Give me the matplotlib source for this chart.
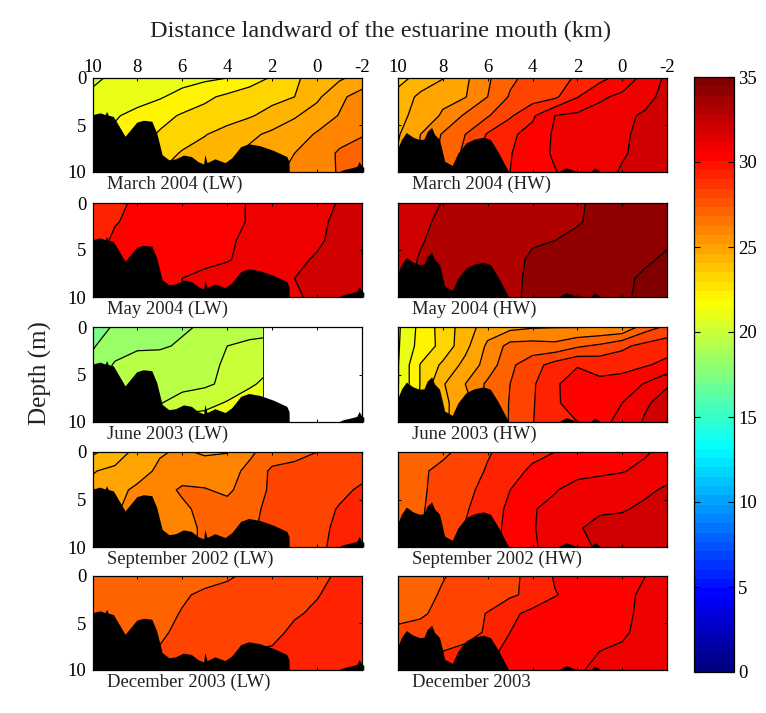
import numpy as np
import matplotlib
matplotlib.use("Agg")
import matplotlib.pyplot as plt
from matplotlib.cm import ScalarMappable
from matplotlib.colors import LinearSegmentedColormap, Normalize

plt.rcParams['font.family'] = ['Liberation Serif', 'DejaVu Serif']
plt.rcParams['axes.unicode_minus'] = False

W, H = 766, 713

km = [10, 9, 8, 7, 6, 5, 4, 3, 2, 1, 0, -1, -2]
km_june_lw = [10, 9, 8, 7, 6, 5, 4, 3, 2.4]  # no stations past 2.4 km that day
depth = [0, 2, 4, 6, 8, 10]

# salinity, one row per depth, one column per station
mar04_lw = [
    [20.8, 21.2, 21.3, 21.5, 21.6, 21.8, 22.0, 22.55, 23.1, 23.85, 24.4, 24.85, 25.4],
    [21.2, 21.4, 21.6, 21.9, 22.35, 22.8, 23.2, 23.5, 23.7, 24.0, 24.8, 25.8, 26.4],
    [21.5, 21.9, 22.3, 22.7, 23.1, 23.35, 23.55, 23.9, 24.35, 24.9, 25.45, 26.05, 26.6],
    [21.9, 22.2, 22.6, 23.1, 23.5, 23.95, 24.4, 24.8, 25.2, 25.55, 26.1, 26.55, 26.95],
    [22.2, 22.5, 23.0, 23.5, 24.1, 24.4, 24.8, 25.2, 25.6, 26.0, 26.4, 27.15, 27.3],
    [22.5, 23.0, 23.4, 24.0, 24.3, 24.6, 25.0, 25.4, 25.8, 26.2, 26.5, 27.1, 27.4],
]
mar04_hw = [
    [23.7, 24.3, 24.95, 25.8, 26.85, 27.8, 28.35, 28.7, 29.1, 29.7, 30.4, 31.3, 32.2],
    [24.3, 25.25, 25.8, 25.95, 27.0, 28.1, 28.5, 28.8, 29.95, 30.85, 31.2, 31.6, 32.4],
    [24.6, 25.5, 26.1, 27.15, 27.9, 28.85, 29.85, 31.0, 31.2, 31.35, 31.75, 32.15, 32.4],
    [24.9, 26.0, 27.1, 28.0, 29.1, 29.85, 30.3, 31.15, 31.3, 31.45, 31.85, 32.25, 32.5],
    [25.1, 26.1, 27.3, 28.2, 29.3, 29.95, 30.5, 31.15, 31.35, 31.5, 31.9, 32.3, 32.5],
    [25.2, 26.2, 27.4, 28.3, 29.4, 30.0, 30.5, 30.95, 31.4, 31.6, 32.1, 32.35, 32.55],
]
may04_lw = [
    [29.5, 29.8, 30.15, 30.3, 30.45, 30.6, 30.8, 31.05, 31.3, 31.5, 31.75, 32.05, 32.3],
    [29.5, 29.95, 30.2, 30.35, 30.5, 30.65, 30.8, 31.05, 31.3, 31.5, 31.75, 32.25, 32.5],
    [29.6, 30.15, 30.3, 30.4, 30.55, 30.7, 30.9, 31.15, 31.4, 31.6, 31.85, 32.3, 32.5],
    [29.7, 30.1, 30.3, 30.5, 30.7, 30.85, 30.95, 31.2, 31.45, 31.8, 32.1, 32.4, 32.6],
    [29.8, 30.2, 30.4, 30.6, 31.0, 31.15, 31.3, 31.45, 31.6, 32.0, 32.2, 32.5, 32.7],
    [29.9, 30.3, 30.5, 30.7, 31.0, 31.2, 31.35, 31.5, 31.7, 31.85, 32.25, 32.5, 32.7],
]
may04_hw = [
    [32.6, 32.8, 33.02, 33.2, 33.3, 33.4, 33.55, 33.7, 33.92, 34.15, 34.3, 34.4, 34.5],
    [32.6, 32.85, 33.15, 33.3, 33.4, 33.45, 33.55, 33.7, 33.95, 34.15, 34.3, 34.45, 34.55],
    [32.65, 32.95, 33.2, 33.3, 33.4, 33.5, 33.9, 34.0, 34.15, 34.25, 34.35, 34.5, 34.85],
    [32.7, 33.05, 33.3, 33.4, 33.5, 33.7, 34.15, 34.3, 34.4, 34.5, 34.6, 34.85, 35.15],
    [32.75, 33.1, 33.35, 33.45, 33.55, 33.75, 34.2, 34.4, 34.5, 34.6, 34.8, 35.15, 35.3],
    [32.8, 33.1, 33.4, 33.5, 33.6, 33.8, 34.2, 34.45, 34.55, 34.65, 34.85, 35.2, 35.35],
]
jun03_lw = [
    [17.6, 18.1, 18.3, 18.6, 18.9, 19.1, 19.3, 19.5, 19.6],
    [17.9, 18.6, 18.9, 18.9, 19.1, 19.4, 20.0, 20.25, 20.3],
    [18.3, 19.1, 19.3, 19.4, 19.5, 19.8, 20.1, 20.4, 20.6],
    [18.5, 19.2, 19.4, 19.5, 19.7, 19.85, 20.2, 20.8, 21.2],
    [18.7, 19.3, 19.5, 19.95, 20.4, 20.6, 21.1, 21.7, 21.9],
    [18.9, 19.4, 19.7, 20.5, 21.5, 21.6, 21.8, 22.0, 22.0],
]
jun03_hw = [
    [20.85, 22.3, 23.4, 24.5, 25.5, 25.7, 25.9, 25.95, 25.95, 25.98, 26.05, 27.5, 28.2],
    [20.9, 22.4, 23.3, 24.7, 26.2, 27.35, 27.4, 27.3, 27.85, 28.2, 28.8, 29.3, 29.6],
    [20.95, 23.05, 24.2, 25.3, 26.4, 27.8, 28.6, 29.4, 29.95, 29.7, 29.6, 29.9, 30.25],
    [20.95, 23.05, 24.9, 26.0, 27.2, 28.0, 28.85, 29.9, 30.35, 30.2, 30.5, 31.05, 31.9],
    [21.1, 23.1, 24.8, 25.5, 27.3, 28.05, 28.9, 29.9, 30.3, 30.5, 31.0, 31.85, 32.4],
    [21.2, 23.2, 24.7, 25.8, 27.4, 28.05, 28.95, 29.9, 30.0, 30.7, 31.3, 32.1, 32.6],
]
sep02_lw = [
    [23.8, 24.5, 25.3, 25.9, 26.15, 25.85, 25.95, 26.85, 27.4, 27.7, 28.0, 28.3, 28.6],
    [24.95, 25.2, 25.6, 26.2, 26.5, 26.6, 26.7, 27.2, 28.2, 28.3, 28.4, 28.6, 28.8],
    [25.2, 25.7, 26.2, 26.6, 27.15, 27.05, 26.85, 27.4, 28.2, 28.4, 28.6, 28.85, 29.1],
    [25.4, 25.9, 26.3, 26.5, 26.8, 27.3, 27.3, 27.7, 28.3, 28.5, 28.75, 29.05, 29.2],
    [25.6, 26.0, 26.4, 26.6, 26.8, 27.1, 27.4, 27.8, 28.4, 28.6, 28.8, 29.15, 29.3],
    [25.8, 26.1, 26.4, 26.6, 26.8, 27.1, 27.5, 27.9, 28.4, 28.6, 28.85, 29.2, 29.4],
]
sep02_hw = [
    [27.4, 27.6, 27.8, 28.3, 28.9, 29.4, 29.7, 30.0, 30.25, 30.4, 30.6, 30.9, 31.25],
    [27.5, 27.85, 28.25, 28.5, 29.1, 29.6, 30.2, 30.55, 30.75, 30.85, 30.95, 31.2, 31.6],
    [27.6, 27.85, 28.35, 28.8, 29.25, 30.0, 30.4, 30.95, 31.3, 31.4, 31.5, 31.8, 32.15],
    [27.7, 27.9, 28.4, 28.9, 29.5, 30.2, 30.95, 31.2, 31.5, 31.85, 31.9, 32.2, 32.4],
    [27.7, 27.95, 28.45, 29.05, 29.6, 30.25, 30.95, 31.3, 31.9, 32.3, 32.4, 32.5, 32.6],
    [27.8, 28.0, 28.5, 29.1, 29.6, 30.3, 30.9, 31.3, 31.7, 32.15, 32.4, 32.5, 32.7],
]
dec03_lw = [
    [27.4, 27.45, 27.5, 27.55, 27.6, 27.7, 27.9, 28.15, 28.3, 28.5, 28.75, 29.15, 29.4],
    [27.5, 27.55, 27.6, 27.7, 27.9, 28.15, 28.25, 28.35, 28.5, 28.7, 28.95, 29.3, 29.5],
    [27.5, 27.6, 27.7, 27.75, 28.05, 28.2, 28.35, 28.5, 28.7, 28.9, 29.15, 29.4, 29.6],
    [27.6, 27.7, 27.8, 27.9, 28.15, 28.3, 28.45, 28.6, 28.75, 29.2, 29.4, 29.6, 29.7],
    [27.7, 27.8, 27.9, 28.05, 28.3, 28.5, 28.85, 29.05, 29.1, 29.3, 29.45, 29.65, 29.75],
    [27.8, 27.85, 27.95, 28.1, 28.35, 28.6, 28.8, 29.1, 29.2, 29.35, 29.5, 29.7, 29.8],
]
dec03_hw = [
    [27.4, 27.7, 27.95, 28.25, 28.5, 28.8, 29.25, 30.1, 30.2, 30.4, 30.65, 30.98, 31.3],
    [27.4, 27.7, 28.1, 28.25, 28.5, 28.85, 29.25, 29.95, 30.3, 30.5, 30.7, 31.2, 31.4],
    [27.8, 27.9, 28.2, 28.6, 29.05, 29.75, 30.3, 30.45, 30.55, 30.65, 30.8, 31.2, 31.5],
    [28.15, 28.25, 28.4, 28.7, 29.1, 30.0, 30.35, 30.5, 30.6, 30.7, 30.85, 31.3, 31.5],
    [28.3, 28.5, 29.0, 29.2, 29.6, 30.4, 30.5, 30.6, 30.7, 31.0, 31.15, 31.5, 31.6],
    [28.4, 28.6, 29.1, 29.3, 29.7, 30.45, 30.55, 30.65, 30.85, 31.3, 31.4, 31.55, 31.7],
]

# channel bottom along the low water and high water transects
bed_lw_km = [10, 9.66, 9.44, 9.37, 9.3, 9.07, 8.55, 8.03, 7.73, 7.36, 7.14, 6.9, 6.6, 6.3,
             5.95, 5.6, 5.3, 5.05, 5.0, 4.9, 4.55, 4.1, 3.8, 3.4, 3.05, 2.55, 1.95, 1.35,
             1.25, 1.24, -0.95, -1.17, -1.55, -1.77, -1.87, -2.0, -2.08]
bed_lw_depth = [3.9, 3.7, 3.9, 3.55, 3.95, 4.1, 6.2, 4.7, 4.5, 4.6, 5.85, 8.15, 8.7, 8.6,
                8.2, 8.35, 8.9, 9.15, 8.15, 9.0, 8.6, 9.0, 8.5, 7.3, 7.0, 7.2, 7.7, 8.35,
                8.9, 10, 10, 9.75, 9.55, 9.4, 8.9, 9.4, 9.5]
bed_hw_km = [10, 9.85, 9.63, 9.33, 9.04, 8.84, 8.7, 8.5, 8.37, 8.15, 8.04, 7.92, 7.58, 7.33,
             6.96, 6.6, 6.2, 5.88, 5.55, 5.07, 2.88, 2.5, 2.06, 1.4, 1.22, 0.95]
bed_hw_depth = [7.45, 6.55, 5.8, 6.3, 6.55, 6.5, 5.7, 5.25, 6.0, 6.55, 7.6, 8.85, 9.3, 8.0,
                6.9, 6.5, 6.3, 6.55, 7.8, 9.95, 10, 9.55, 9.9, 9.95, 9.55, 10]

lw_titles = ['March 2004 (LW)', 'May 2004 (LW)', 'June 2003 (LW)',
             'September 2002 (LW)', 'December 2003 (LW)']
hw_titles = ['March 2004 (HW)', 'May 2004 (HW)', 'June 2003 (HW)',
             'September 2002 (HW)', 'December 2003']
lw_fields = [mar04_lw, may04_lw, jun03_lw, sep02_lw, dec03_lw]
hw_fields = [mar04_hw, may04_hw, jun03_hw, sep02_hw, dec03_hw]

xticks = [10, 8, 6, 4, 2, 0, -2]
yticks = [0, 5, 10]
cticks = [0, 5, 10, 15, 20, 25, 30, 35]
levels = np.arange(15, 38)

# the matplotlib jet is not quite the old matlab one, red starts later there
matlab_jet = {
    'red': [(0, 0, 0), (0.375, 0, 0), (0.625, 1, 1), (0.875, 1, 1), (1, 0.5, 0.5)],
    'green': [(0, 0, 0), (0.125, 0, 0), (0.375, 1, 1), (0.625, 1, 1), (0.875, 0, 0), (1, 0, 0)],
    'blue': [(0, 0.5, 0.5), (0.125, 1, 1), (0.375, 1, 1), (0.625, 0, 0), (1, 0, 0)],
}
cmap = LinearSegmentedColormap('matlab_jet', matlab_jet, N=64)
norm = Normalize(0, 35)
# bands take the colour near their lower level, not the middle of the band
band_colors = cmap(norm(levels[:-1] + 0.15))


def px_axes(fig, left, top, right, bottom):
    """axes from pixel edges, y counted from the top of the picture"""
    return fig.add_axes([left / W, 1 - bottom / H, (right - left) / W, (bottom - top) / H])


def panel(ax, x, field, bed_x, bed_y, title):
    z = np.array(field)
    ax.contourf(x, depth, z, levels=levels, colors=band_colors)
    ax.contour(x, depth, z, levels=levels, colors='k', linewidths=0.9)
    ax.fill_between(bed_x, bed_y, 10, color='k', lw=0, zorder=3, clip_on=False)
    ax.set_xlim(10, -2)
    ax.set_ylim(10, 0)
    ax.set_xticks(xticks)
    ax.set_yticks(yticks)
    ax.tick_params(direction='in', length=2.5, width=0.7, top=True, right=True,
                   labelbottom=False, labelleft=False, labelsize=13.5)
    ax.tick_params(axis='x', pad=1.5)
    ax.tick_params(axis='y', pad=4.5)
    ax.text(0.052, -0.13, title, transform=ax.transAxes, fontsize=13.4, va='center',
            color='#222222')
    for s in ax.spines.values():
        s.set_linewidth(0.9)
        s.set_zorder(5)


fig = plt.figure(figsize=(W / 100, H / 100), dpi=100)

tops = [78, 203, 327, 452, 576]
bottoms = [172, 297, 422, 547, 670]

for i in range(5):
    ax = px_axes(fig, 92.5, tops[i], 362, bottoms[i])
    x = km_june_lw if lw_fields[i] is jun03_lw else km
    panel(ax, x, lw_fields[i], bed_lw_km, bed_lw_depth, lw_titles[i])
    ax.tick_params(labelleft=True)
    ax.set_yticklabels([str(t) for t in yticks])
    if lw_fields[i] is jun03_lw:
        ax.axvline(km_june_lw[-1], color='k', lw=0.6, zorder=2)
    if i == 0:
        ax.tick_params(labeltop=True)
        ax.set_xticklabels([str(t) for t in xticks])

    ax = px_axes(fig, 398, tops[i], 667, bottoms[i])
    panel(ax, km, hw_fields[i], bed_hw_km, bed_hw_depth, hw_titles[i])
    if i == 0:
        ax.tick_params(labeltop=True)
        ax.set_xticklabels([str(t) for t in xticks])

cax = px_axes(fig, 694, 77, 734, 672)
cb = fig.colorbar(ScalarMappable(norm=norm, cmap=cmap), cax=cax)
cb.set_ticks(cticks)
cb.ax.set_yticklabels([str(t) for t in cticks])
cb.ax.tick_params(direction='in', length=4, width=0.8, left=True, right=True,
                  labelsize=13.5, pad=3)
cb.outline.set_linewidth(0.9)

fig.text(381 / W, 1 - 31 / H, 'Distance landward of the estuarine mouth (km)',
         fontsize=17.6, ha='center', va='center', color='#222222')
fig.text(40 / W, 1 - 373 / H, 'Depth (m)', fontsize=18, rotation=90,
         ha='center', va='center', color='#222222')

fig.savefig('out.png', dpi=100)
